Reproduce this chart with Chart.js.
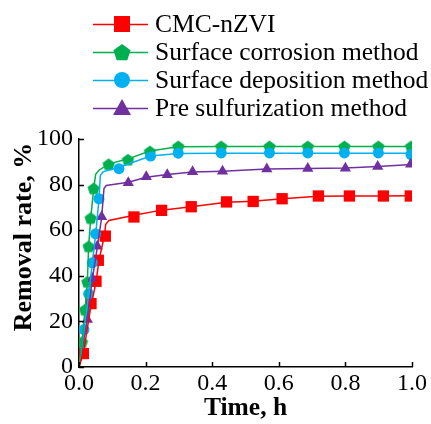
<!DOCTYPE html>
<html>
<head>
<meta charset="utf-8">
<script src="https://cdn.jsdelivr.net/npm/chart.js@4.4.1/dist/chart.umd.min.js"></script>
<style>
  html, body { margin: 0; padding: 0; background: #fff; }
  #wrap { width: 431px; height: 424px; position: relative; }
</style>
</head>
<body>
<div id="wrap"><canvas id="chart"></canvas></div>
<script>
// Measured removal rates (markers)
const cmcTime = [0.013, 0.036, 0.051, 0.058, 0.079, 0.165, 0.248, 0.337, 0.443, 0.523, 0.61, 0.719, 0.812, 0.914, 0.995];
const cmcRate = [5.9, 27.8, 37.6, 46.8, 57.4, 65.8, 68.7, 70.3, 72.4, 72.6, 73.8, 75.0, 75.0, 75.0, 75.0];

const corrTime = [0.009, 0.018, 0.025, 0.029, 0.035, 0.044, 0.089, 0.147, 0.213, 0.298, 0.427, 0.572, 0.687, 0.797, 0.899, 0.997];
const corrRate = [11.0, 25.2, 37.4, 53.0, 65.4, 78.4, 89.0, 91.0, 94.6, 96.8, 96.8, 96.8, 96.8, 96.8, 96.8, 96.8];

const depoTime = [0.015, 0.029, 0.04, 0.05, 0.06, 0.12, 0.215, 0.298, 0.427, 0.572, 0.687, 0.797, 0.899, 0.997];
const depoRate = [16.4, 32.1, 45.7, 58.4, 73.8, 87.0, 92.5, 93.8, 93.9, 93.9, 93.9, 93.9, 93.9, 93.2];

const sulfTime = [0.025, 0.04, 0.055, 0.068, 0.148, 0.202, 0.265, 0.341, 0.431, 0.564, 0.687, 0.8, 0.897, 0.996];
const sulfRate = [20.8, 38.8, 53.0, 65.9, 80.8, 83.4, 84.3, 85.6, 85.9, 86.8, 87.1, 87.2, 87.9, 88.9];

// Fitted curves (line vertices)
const cmcFitTime = [0, 0.013, 0.036, 0.051, 0.06, 0.077, 0.08, 0.09, 0.165, 0.248, 0.337, 0.443, 0.523, 0.61, 0.719, 0.812, 0.914, 1.0];
const cmcFitRate = [0, 6, 27, 37, 47, 58, 62.5, 64.3, 66.6, 68.8, 70.3, 72.3, 72.7, 73.8, 74.9, 75.0, 75.0, 75.1];

const corrFitTime = [0, 0.009, 0.018, 0.025, 0.029, 0.035, 0.044, 0.05, 0.06, 0.089, 0.147, 0.213, 0.298, 0.427, 0.572, 0.687, 0.797, 0.899, 1.0];
const corrFitRate = [0, 11, 25, 37, 53, 65, 78, 84.5, 86.3, 89.0, 91.3, 94.7, 96.6, 96.7, 96.7, 96.7, 96.7, 96.7, 96.7];

const depoFitTime = [0, 0.015, 0.029, 0.04, 0.05, 0.06, 0.064, 0.072, 0.12, 0.215, 0.298, 0.427, 0.572, 0.687, 0.797, 0.899, 1.0];
const depoFitRate = [0, 16, 32, 45.5, 58, 73.5, 84.0, 85.6, 87.6, 92.5, 93.6, 93.7, 93.7, 93.7, 93.8, 93.8, 93.8];

const sulfFitTime = [0, 0.025, 0.04, 0.055, 0.068, 0.075, 0.082, 0.148, 0.202, 0.265, 0.341, 0.431, 0.564, 0.687, 0.8, 0.897, 1.0];
const sulfFitRate = [0, 21, 38.5, 52.5, 65.5, 78.3, 79.6, 81.0, 83.2, 84.4, 85.5, 85.9, 86.8, 87.1, 87.3, 87.9, 88.8];

const seriesNames = ['CMC-nZVI', 'Surface corrosion method', 'Surface deposition method', 'Pre sulfurization method'];
const seriesColors = ['#ff0000', '#00b050', '#00b0f0', '#7030a0'];

const yTicks = [0, 20, 40, 60, 80, 100];
const xTicks = [0, 0.2, 0.4, 0.6, 0.8, 1.0];

const FONT = '"Liberation Serif", "Times New Roman", serif';

function toPoints(xs, ys) {
    return xs.map((x, i) => ({ x: x, y: ys[i] }));
}

// Pentagon marker drawn onto a small canvas (Chart.js has no pentagon style)
function pentagonPath(ctx, cx, cy, r) {
    ctx.beginPath();
    for (let i = 0; i < 5; i++) {
        const a = -Math.PI / 2 + i * 2 * Math.PI / 5;
        const px = cx + r * Math.cos(a);
        const py = cy + r * Math.sin(a);
        if (i === 0) ctx.moveTo(px, py); else ctx.lineTo(px, py);
    }
    ctx.closePath();
}

function makePentagon(r, color) {
    const c = document.createElement('canvas');
    const s = Math.ceil(r * 2 + 2);
    c.width = s; c.height = s;
    const g = c.getContext('2d');
    pentagonPath(g, s / 2, s / 2 + r * 0.1, r);
    g.fillStyle = color;
    g.fill();
    return c;
}

const pentagon = makePentagon(6.5, seriesColors[1]);

function lineSet(xs, ys, color) {
    return {
        data: toPoints(xs, ys),
        showLine: true,
        borderColor: color,
        borderWidth: 1.5,
        pointRadius: 0,
        fill: false,
        tension: 0
    };
}

function markerSet(xs, ys, color, style, radius) {
    return {
        data: toPoints(xs, ys),
        showLine: false,
        backgroundColor: color,
        borderColor: color,
        borderWidth: 0,
        pointStyle: style,
        pointRadius: radius
    };
}

// Inward tick marks on both axes, plus the rotated y title
const axisExtras = {
    id: 'axisExtras',
    afterDatasetsDraw(chart) {
        const ctx = chart.ctx;
        const xs = chart.scales.x, ys = chart.scales.y;
        const a = chart.chartArea;
        ctx.save();
        ctx.strokeStyle = '#000';
        ctx.lineWidth = 1.5;
        xTicks.forEach(v => {
            const px = Math.round(xs.getPixelForValue(v)) + 0.5;
            ctx.beginPath();
            ctx.moveTo(px, a.bottom);
            ctx.lineTo(px, a.bottom - 5);
            ctx.stroke();
        });
        yTicks.forEach(v => {
            const py = Math.round(ys.getPixelForValue(v)) + 0.5;
            ctx.beginPath();
            ctx.moveTo(a.left, py);
            ctx.lineTo(a.left + 5, py);
            ctx.stroke();
        });
        ctx.translate(24, 237);
        ctx.rotate(-Math.PI / 2);
        ctx.fillStyle = '#000';
        ctx.font = 'bold 26px ' + FONT;
        ctx.textAlign = 'center';
        ctx.textBaseline = 'middle';
        ctx.fillText('Removal rate, %', 0, 0);
        ctx.restore();
    }
};

// Legend: line with marker, then label
const lineLegend = {
    id: 'lineLegend',
    afterDraw(chart) {
        const ctx = chart.ctx;
        const rows = [24, 52, 80, 108];
        const x0 = 93, x1 = 148, mx = 122;
        ctx.save();
        ctx.font = '25.5px ' + FONT;
        ctx.textBaseline = 'middle';
        ctx.textAlign = 'left';
        rows.forEach((y, i) => {
            const col = seriesColors[i];
            ctx.strokeStyle = col;
            ctx.lineWidth = 1.5;
            ctx.beginPath();
            ctx.moveTo(x0, y + 0.5);
            ctx.lineTo(x1, y + 0.5);
            ctx.stroke();
            ctx.fillStyle = col;
            if (i === 0) {
                ctx.fillRect(mx - 8, y - 8, 16, 16);
            } else if (i === 1) {
                pentagonPath(ctx, mx, y + 1, 9);
                ctx.fill();
            } else if (i === 2) {
                ctx.beginPath();
                ctx.arc(mx, y, 8, 0, Math.PI * 2);
                ctx.fill();
            } else {
                ctx.beginPath();
                ctx.moveTo(mx, y - 9);
                ctx.lineTo(mx + 9, y + 7);
                ctx.lineTo(mx - 9, y + 7);
                ctx.closePath();
                ctx.fill();
            }
            ctx.fillStyle = '#000';
            ctx.fillText(seriesNames[i], 155, y + 1);
        });
        ctx.restore();
    }
};

new Chart(document.getElementById('chart').getContext('2d'), {
    type: 'scatter',
    data: {
        datasets: [
            lineSet(cmcFitTime, cmcFitRate, seriesColors[0]),
            lineSet(corrFitTime, corrFitRate, seriesColors[1]),
            lineSet(depoFitTime, depoFitRate, seriesColors[2]),
            lineSet(sulfFitTime, sulfFitRate, seriesColors[3]),
            markerSet(sulfTime, sulfRate, seriesColors[3], 'triangle', 6.5),
            markerSet(depoTime, depoRate, seriesColors[2], 'circle', 5.5),
            markerSet(corrTime, corrRate, seriesColors[1], pentagon, 6),
            markerSet(cmcTime, cmcRate, seriesColors[0], 'rect', 8)
        ]
    },
    options: {
        responsive: true,
        maintainAspectRatio: false,
        animation: false,
        layout: { padding: { top: 139, right: 19, left: 0, bottom: 0 } },
        plugins: {
            legend: { display: false },
            tooltip: { enabled: false }
        },
        scales: {
            x: {
                type: 'linear',
                min: 0,
                max: 1,
                afterFit: scale => { scale.height = 57; },
                afterBuildTicks: scale => { scale.ticks = xTicks.map(v => ({ value: v })); },
                grid: { display: true, drawOnChartArea: false, drawTicks: false },
                border: { display: true, color: '#000', width: 1.5 },
                ticks: {
                    color: '#000',
                    padding: 2,
                    font: { family: FONT, size: 24 },
                    callback: v => v.toFixed(1)
                },
                title: {
                    display: true,
                    text: 'Time, h',
                    color: '#000',
                    padding: { top: 0, bottom: 0 },
                    font: { family: FONT, size: 25.5, weight: 'bold' }
                }
            },
            y: {
                min: 0,
                max: 100,
                afterFit: scale => { scale.width = 79; },
                afterBuildTicks: scale => { scale.ticks = yTicks.map(v => ({ value: v })); },
                grid: { display: true, drawOnChartArea: false, drawTicks: false },
                border: { display: true, color: '#000', width: 1.5 },
                ticks: {
                    color: '#000',
                    padding: 6,
                    font: { family: FONT, size: 24 }
                }
            }
        }
    },
    plugins: [axisExtras, lineLegend]
});
</script>
</body>
</html>
